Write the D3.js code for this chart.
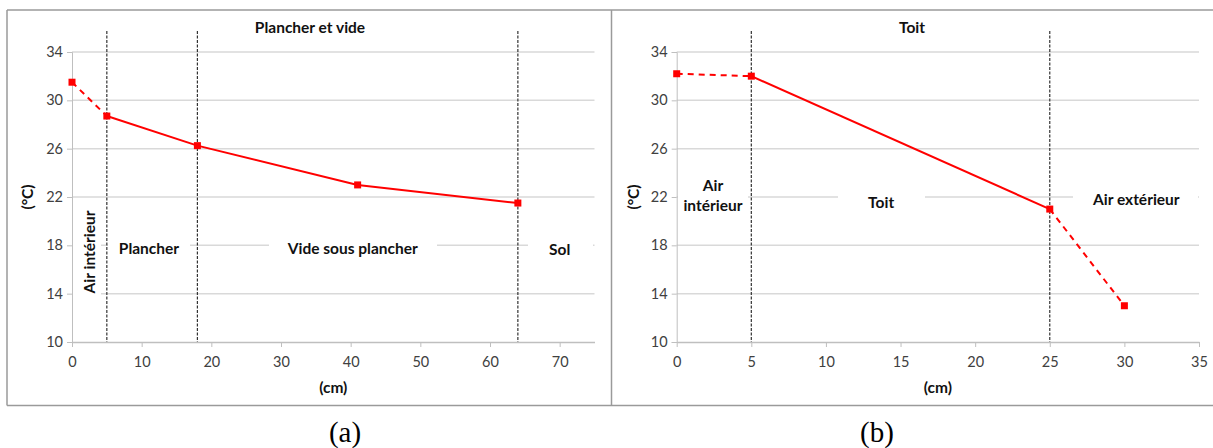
<!DOCTYPE html>
<html><head><meta charset="utf-8">
<script src="https://cdn.jsdelivr.net/npm/d3@7"></script>
<style>
body{margin:0;background:#fff;}
svg{display:block;font-family:Lato,"Open Sans",sans-serif;}
</style></head>
<body><svg id="c" width="1213" height="448"></svg>
<script>
// ---------- data ----------
const aTitle = "Plancher et vide";
const aX = [0, 5, 18, 41, 64];
const aY = [31.5, 28.7, 26.25, 23.0, 21.5];
const aSegDashed = [true, false, false, false];
const aBounds = [5, 18, 64];
const aXTicks = [0, 10, 20, 30, 40, 50, 60, 70];

const bTitle = "Toit";
const bX = [0, 5, 25, 30];
const bY = [32.2, 32.0, 21.0, 13.0];
const bSegDashed = [true, false, true];
const bBounds = [5, 25];
const bXTicks = [0, 5, 10, 15, 20, 25, 30, 35];

const yTicks = [10, 14, 18, 22, 26, 30, 34];
const xTitle = "(cm)";
const yTitle = "(°C)";
const captions = ["(a)", "(b)"];

const BOLD = 15.5, TICK = 14.5;
const svg = d3.select("#c");

// frame
const frame = svg.append("g").attr("stroke", "#9a9a9a").attr("stroke-width", 1.5);
frame.append("line").attr("x1", 7).attr("x2", 1213).attr("y1", 10).attr("y2", 10);
frame.append("line").attr("x1", 7).attr("x2", 1213).attr("y1", 405.5).attr("y2", 405.5);
frame.append("line").attr("x1", 7).attr("x2", 7).attr("y1", 10).attr("y2", 405.5);
frame.append("line").attr("x1", 611.5).attr("x2", 611.5).attr("y1", 10).attr("y2", 405.5);

function panel(cfg) {
  const x = d3.scaleLinear().domain(cfg.xDomain).range([cfg.x0, cfg.x1]);
  const y = d3.scaleLinear().domain([10, 34]).range([342, 52]);
  const g = svg.append("g");

  // gridlines
  g.append("g").selectAll("line").data(yTicks.filter(d => d > 10)).join("line")
    .attr("x1", cfg.x0).attr("x2", cfg.x1).attr("y1", d => y(d)).attr("y2", d => y(d))
    .attr("stroke", "#d9d9d9").attr("stroke-width", 1.5);

  // y axis
  const ya = g.append("g").attr("transform", `translate(${cfg.x0},0)`)
    .call(d3.axisLeft(y).tickValues(yTicks).tickSize(5).tickPadding(4));
  ya.select(".domain").attr("stroke", "#bfbfbf").attr("stroke-width", 1);
  ya.selectAll(".tick line").attr("stroke", "#bfbfbf");
  ya.selectAll("text").attr("font-size", TICK).attr("fill", "#404040")
    .attr("font-family", "Lato, sans-serif");

  // x axis
  const xa = g.append("g").attr("transform", `translate(0,342)`)
    .call(d3.axisBottom(x).tickValues(cfg.xTicks).tickSize(5).tickPadding(10).tickSizeOuter(0));
  xa.select(".domain").attr("stroke", "#bfbfbf").attr("stroke-width", 1.5);
  xa.selectAll(".tick line").attr("stroke", "#bfbfbf");
  xa.selectAll("text").attr("font-size", TICK).attr("fill", "#404040")
    .attr("font-family", "Lato, sans-serif");

  // label boxes
  cfg.labels.forEach(l => {
    g.append("rect").attr("x", l.bx0).attr("width", l.bx1 - l.bx0)
      .attr("y", l.by0).attr("height", l.by1 - l.by0).attr("fill", "#fff");
    const t = g.append("text").attr("font-size", BOLD).attr("font-weight", "bold")
      .attr("fill", "#111").attr("text-anchor", "middle").attr("dominant-baseline", "central");
    if (l.rotate) {
      t.attr("transform", `translate(${x(l.x)},${y(l.y)}) rotate(-90)`).text(l.text[0]);
    } else {
      l.text.forEach((s, i) => {
        t.append("tspan").attr("x", x(l.x)).attr("y", y(l.y) + (i - (l.text.length - 1) / 2) * 20).text(s);
      });
    }
  });

  // boundary dashed lines
  g.append("g").selectAll("line").data(cfg.bounds).join("line")
    .attr("x1", d => x(d)).attr("x2", d => x(d)).attr("y1", 31).attr("y2", 342)
    .attr("stroke", "#333").attr("stroke-width", 1.2).attr("stroke-dasharray", "3,1.5");

  // data segments
  const pts = cfg.xs.map((d, i) => [d, cfg.ys[i]]);
  const segs = d3.pairs(pts).map((p, i) => ({ p, dashed: cfg.dashed[i] }));
  g.append("g").selectAll("path").data(segs).join("path")
    .attr("d", s => d3.line().x(d => x(d[0])).y(d => y(d[1]))(s.p))
    .attr("fill", "none").attr("stroke", "#ff0000").attr("stroke-width", 2)
    .attr("stroke-dasharray", s => s.dashed ? "6,5" : null);

  g.append("g").selectAll("rect").data(pts).join("rect")
    .attr("x", d => x(d[0]) - 3.5).attr("y", d => y(d[1]) - 3.5)
    .attr("width", 7).attr("height", 7).attr("fill", "#ff0000");

  // titles
  g.append("text").attr("x", cfg.titleX).attr("y", 27).attr("text-anchor", "middle")
    .attr("dominant-baseline", "central").attr("font-size", BOLD).attr("font-weight", "bold")
    .attr("fill", "#111").text(cfg.title);
  g.append("text").attr("x", (cfg.x0 + cfg.x1) / 2).attr("y", 387).attr("text-anchor", "middle")
    .attr("dominant-baseline", "central").attr("font-size", BOLD).attr("font-weight", "bold")
    .attr("fill", "#111").text(xTitle);
  g.append("text").attr("transform", `translate(${cfg.yTitleX},197) rotate(-90)`)
    .attr("text-anchor", "middle").attr("dominant-baseline", "central")
    .attr("font-size", BOLD).attr("font-weight", "bold").attr("fill", "#111").text(yTitle);

  svg.append("text").attr("x", cfg.capX).attr("y", 442).attr("text-anchor", "middle")
    .attr("font-family", "'Liberation Serif','Times New Roman',serif").attr("font-size", 29)
    .attr("fill", "#000").text(cfg.caption);
}

panel({
  xDomain: [0, 75], x0: 72, x1: 594.5, xTicks: aXTicks,
  xs: aX, ys: aY, dashed: aSegDashed, bounds: aBounds,
  title: aTitle, titleX: 310, yTitleX: 27, capX: 345, caption: captions[0],
  labels: [
    { text: ["Air intérieur"], x: 2.44, y: 17.45, rotate: true, bx0: 73, bx1: 101, by0: 203, by1: 302 },
    { text: ["Plancher"], x: 11.05, y: 17.8, bx0: 108, bx1: 190, by0: 236, by1: 262 },
    { text: ["Vide sous plancher"], x: 40.3, y: 17.8, bx0: 269, bx1: 437, by0: 236, by1: 262 },
    { text: ["Sol"], x: 70.0, y: 17.7, bx0: 528, bx1: 593, by0: 236, by1: 262 }
  ]
});

panel({
  xDomain: [0, 35], x0: 676.7, x1: 1199, xTicks: bXTicks,
  xs: bX, ys: bY, dashed: bSegDashed, bounds: bBounds,
  title: bTitle, titleX: 912, yTitleX: 633, capX: 877, caption: captions[1],
  labels: [
    { text: ["Air", "intérieur"], x: 2.43, y: 22.2, bx0: 678, bx1: 748, by0: 176, by1: 220 },
    { text: ["Toit"], x: 13.7, y: 21.6, bx0: 838, bx1: 925, by0: 188, by1: 214 },
    { text: ["Air extérieur"], x: 30.8, y: 21.8, bx0: 1073, bx1: 1198, by0: 188, by1: 212 }
  ]
});
</script></body></html>
